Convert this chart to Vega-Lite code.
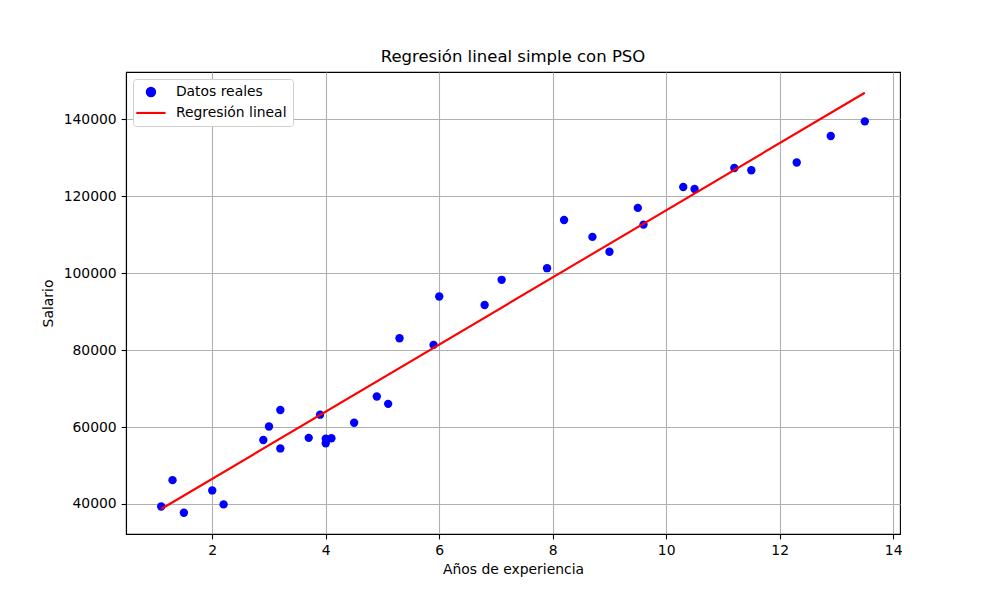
{
  "$schema": "https://vega.github.io/schema/vega-lite/v6.json",
  "width": 774,
  "height": 462,
  "autosize": {"type": "none"},
  "padding": {"left": 126, "top": 72, "right": 100, "bottom": 66},
  "background": "white",
  "title": {"text": "Regresión lineal simple con PSO", "font": "DejaVu Sans", "fontSize": 16.5, "fontWeight": "normal", "color": "black", "offset": 7, "anchor": "middle"},
  "config": {
    "font": "DejaVu Sans",
    "view": {"stroke": "black", "strokeWidth": 1.1},
    "axis": {
      "labelFont": "DejaVu Sans", "labelFontSize": 13.9, "labelColor": "black",
      "titleFont": "DejaVu Sans", "titleFontSize": 13.9, "titleFontWeight": "normal", "titleColor": "black",
      "grid": true, "gridColor": "#b0b0b0", "gridWidth": 1.1,
      "domainColor": "black", "domainWidth": 1.1,
      "tickColor": "black", "tickSize": 4.9, "tickWidth": 1.1, "labelPadding": 4.9
    },
    "legend": {
      "orient": "none", "legendX": 7, "legendY": 7,
      "title": null, "labelFont": "DejaVu Sans", "labelFontSize": 13.9, "labelColor": "black",
      "fillColor": "white", "strokeColor": "#d0d0d0", "cornerRadius": 3, "padding": 6,
      "rowPadding": 4, "symbolSize": 70, "symbolOffset": 5, "labelOffset": 18, "symbolStrokeWidth": 2.1
    }
  },
  "datasets": {
    "puntos": [
      {"x": 1.1, "y": 39343}, {"x": 1.3, "y": 46205}, {"x": 1.5, "y": 37731}, {"x": 2.0, "y": 43525},
      {"x": 2.2, "y": 39891}, {"x": 2.9, "y": 56642}, {"x": 3.0, "y": 60150}, {"x": 3.2, "y": 54445},
      {"x": 3.2, "y": 64445}, {"x": 3.7, "y": 57189}, {"x": 3.9, "y": 63218}, {"x": 4.0, "y": 55794},
      {"x": 4.0, "y": 56957}, {"x": 4.1, "y": 57081}, {"x": 4.5, "y": 61111}, {"x": 4.9, "y": 67938},
      {"x": 5.1, "y": 66029}, {"x": 5.3, "y": 83088}, {"x": 5.9, "y": 81363}, {"x": 6.0, "y": 93940},
      {"x": 6.8, "y": 91738}, {"x": 7.1, "y": 98273}, {"x": 7.9, "y": 101302}, {"x": 8.2, "y": 113812},
      {"x": 8.7, "y": 109431}, {"x": 9.0, "y": 105582}, {"x": 9.5, "y": 116969}, {"x": 9.6, "y": 112635},
      {"x": 10.3, "y": 122391}, {"x": 10.5, "y": 121872}, {"x": 11.2, "y": 127345}, {"x": 11.5, "y": 126756},
      {"x": 12.3, "y": 128765}, {"x": 12.9, "y": 135675}, {"x": 13.5, "y": 139465}
    ],
    "linea": [
      {"x": 1.1, "y": 38700}, {"x": 13.5, "y": 146900}
    ]
  },
  "layer": [
    {
      "data": {"name": "puntos"},
      "transform": [{"calculate": "'Datos reales'", "as": "serie"}],
      "mark": {"type": "point", "filled": true, "opacity": 1, "size": 70},
      "encoding": {
        "x": {"field": "x", "type": "quantitative", "title": "Años de experiencia", "scale": {"domain": [0.48, 14.12], "nice": false, "zero": false}, "axis": {"values": [2, 4, 6, 8, 10, 12, 14], "format": "d", "titlePadding": 5}},
        "y": {"field": "y", "type": "quantitative", "title": "Salario", "scale": {"domain": [32200, 152300], "nice": false, "zero": false}, "axis": {"values": [40000, 60000, 80000, 100000, 120000, 140000], "format": "d", "titlePadding": 8}},
        "color": {"field": "serie", "type": "nominal", "scale": {"domain": ["Datos reales", "Regresión lineal"], "range": ["#0000ff", "#ff0000"]}},
        "shape": {"field": "serie", "type": "nominal", "scale": {"domain": ["Datos reales", "Regresión lineal"], "range": ["circle", "M-3.5,0L3.5,0"]},
          "legend": {"encode": {"symbols": {"update": {"stroke": {"signal": "datum.value == 'Regresión lineal' ? '#ff0000' : null"}, "strokeWidth": {"value": 2.1}}}}}}
      }
    },
    {
      "data": {"name": "linea"},
      "transform": [{"calculate": "'Regresión lineal'", "as": "serie"}],
      "mark": {"type": "line", "strokeWidth": 2.1},
      "encoding": {
        "x": {"field": "x", "type": "quantitative"},
        "y": {"field": "y", "type": "quantitative"},
        "color": {"field": "serie", "type": "nominal"}
      }
    }
  ]
}
